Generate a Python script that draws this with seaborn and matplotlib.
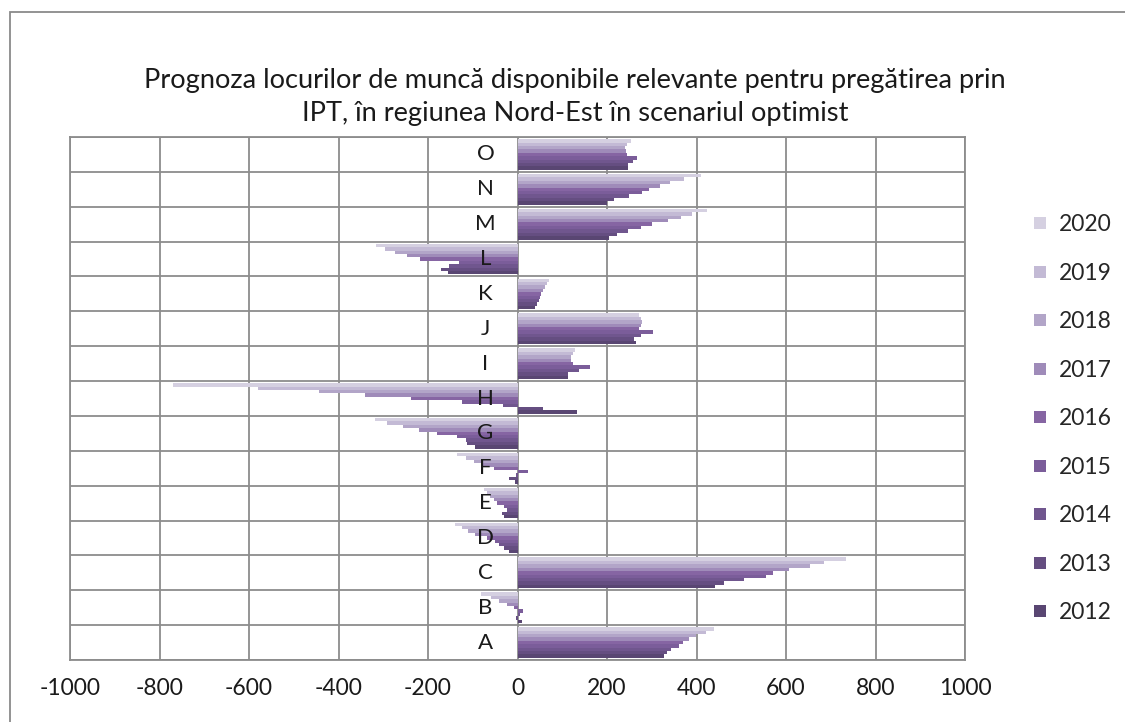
import numpy as np
import pandas as pd
import matplotlib
matplotlib.use("Agg")
import matplotlib.pyplot as plt
from matplotlib.patches import Rectangle
from matplotlib.lines import Line2D
import seaborn as sns

categories = ["A", "B", "C", "D", "E", "F", "G", "H", "I", "J", "K", "L", "M", "N", "O"]
years = ["2012", "2013", "2014", "2015", "2016", "2017", "2018", "2019", "2020"]

v2012 = [328, 9, 442, -20, -31, -5, -95, 134, 113, 264, 39, -155, 204, 201, 247]
v2013 = [334, -4, 461, -31, -35, -20, -112, 57, 113, 261, 44, -171, 223, 216, 247]
v2014 = [342, 5, 506, -42, -23, -3, -115, -32, 137, 276, 49, -153, 247, 249, 257]
v2015 = [360, 13, 555, -50, -31, 23, -136, -123, 162, 302, 51, -130, 275, 279, 267]
v2016 = [369, -7, 572, -68, -46, -53, -180, -239, 124, 272, 53, -217, 301, 294, 245]
v2017 = [383, -24, 606, -95, -53, -77, -220, -340, 120, 276, 58, -247, 337, 318, 243]
v2018 = [398, -42, 654, -110, -61, -98, -256, -443, 120, 278, 62, -274, 365, 341, 241]
v2019 = [422, -59, 684, -125, -68, -115, -292, -579, 125, 276, 65, -295, 390, 371, 244]
v2020 = [439, -81, 735, -140, -74, -136, -318, -769, 129, 272, 70, -317, 424, 410, 253]

series = [v2012, v2013, v2014, v2015, v2016, v2017, v2018, v2019, v2020]
colors = ["#594672", "#654E81", "#70568E", "#7B5D9A", "#8665A3",
          "#9F8BB9", "#B2A5C8", "#C3BAD5", "#D5D0E1"]

title = ("Prognoza locurilor de muncă disponibile relevante pentru pregătirea prin\n"
         "IPT, în regiunea Nord-Est în scenariul optimist")

rows = []
for y, vals in zip(years, series):
    for c, v in zip(categories, vals):
        rows.append({"cat": c, "year": y, "val": v})
df = pd.DataFrame(rows)

sns.set_theme(style="white")
plt.rcParams["font.family"] = ["Lato", "DejaVu Sans"]

W, H = 1125, 722
fig = plt.figure(figsize=(W / 100, H / 100), dpi=100)
fig.patch.set_facecolor("white")
ax = fig.add_axes([70 / W, (H - 660) / H, 895 / W, 523 / H])

palette = dict(zip(years, colors))
sns.barplot(data=df, y="cat", x="val", hue="year", order=categories[::-1],
            hue_order=years[::-1], palette=palette, orient="h", width=0.88,
            saturation=1, linewidth=0, legend=False, ax=ax, errorbar=None)

gcol = "#8c8c8c"
txt = "#1a1a1a"
ax.set_xlim(-1000, 1000)
ax.set_ylim(len(categories) - 0.5, -0.5)
ax.set_xticks(np.arange(-1000, 1001, 200))
ax.set_xticklabels([str(t) for t in range(-1000, 1001, 200)], fontsize=16.5, color=txt)
ax.set_yticks([])
ax.set_yticks(np.arange(-0.5, len(categories), 1), minor=True)
ax.tick_params(axis="x", length=0, pad=13)
ax.tick_params(axis="y", which="both", length=0)
ax.grid(axis="x", which="major", color=gcol, lw=1.3)
ax.grid(axis="y", which="minor", color=gcol, lw=1.3)
ax.set_axisbelow(True)
for s in ax.spines.values():
    s.set_color(gcol)
    s.set_linewidth(1.3)
ax.set_xlabel("")
ax.set_ylabel("")

for i, c in enumerate(categories[::-1]):
    ax.annotate(c, xy=(0, i), xytext=(-23, 0), textcoords="offset points",
                ha="center", va="center", fontsize=16, color=txt)

fig.text(575 / W, 1 - 97 / H, title, ha="center", va="center", fontsize=19.6,
         color=txt, linespacing=1.38)

handles = [Line2D([], [], marker="s", linestyle="", markersize=8.5,
                  markerfacecolor=col, markeredgewidth=0)
           for col in colors[::-1]]
fig.legend(handles, years[::-1], loc="upper left",
           bbox_to_anchor=(1022 / W, 1 - 205 / H), frameon=False,
           fontsize=16.5, labelspacing=1.2, handletextpad=0.4, handlelength=0.8,
           borderaxespad=0)

fig.patches.append(Rectangle((10 / W, -0.1), 1.2, 1 - 12 / H + 0.1,
                             transform=fig.transFigure, fill=False,
                             edgecolor="#8a8a8a", lw=1.3))

fig.savefig("out.png", dpi=100)
